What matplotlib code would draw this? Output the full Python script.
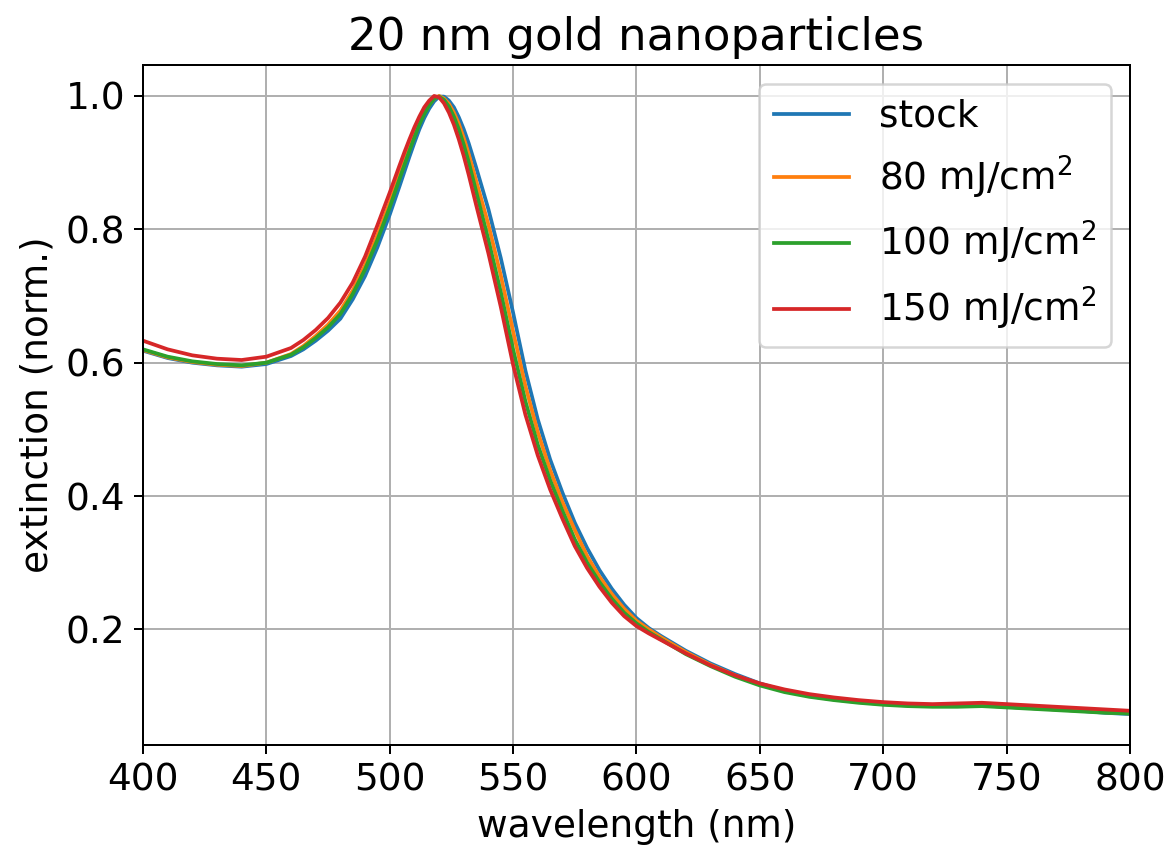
import matplotlib
matplotlib.use("Agg")
import matplotlib.pyplot as plt

# wavelength grid (nm)
wavelength = [400, 410, 420, 430, 440, 450, 460, 465, 470, 475, 480, 485, 490, 495,
              500, 504, 506, 508, 510, 512, 514, 516, 518, 520, 522, 524, 526, 528,
              530, 532, 535, 540, 545, 550, 555, 560, 565, 570, 575, 580, 585, 590,
              595, 600, 605, 610, 620, 630, 640, 650, 660, 670, 680, 690, 700, 710,
              720, 730, 740, 750, 760, 770, 780, 790, 800]

stock = [0.618, 0.607, 0.600, 0.596, 0.594, 0.598, 0.610, 0.620, 0.633, 0.648, 0.666, 0.695, 0.730, 0.773,
         0.822, 0.865, 0.887, 0.909, 0.930, 0.950, 0.967, 0.981, 0.992, 0.999, 0.999, 0.993, 0.983, 0.968,
         0.950, 0.929, 0.893, 0.830, 0.757, 0.675, 0.588, 0.515, 0.455, 0.405, 0.360, 0.322, 0.289, 0.261,
         0.237, 0.217, 0.202, 0.190, 0.168, 0.149, 0.133, 0.119, 0.108, 0.100, 0.095, 0.091, 0.088, 0.086,
         0.085, 0.085, 0.086, 0.084, 0.082, 0.080, 0.078, 0.075, 0.073]

mj80 = [0.619, 0.608, 0.601, 0.597, 0.595, 0.600, 0.613, 0.625, 0.640, 0.657, 0.678, 0.708, 0.746, 0.791,
        0.840, 0.882, 0.903, 0.923, 0.942, 0.960, 0.975, 0.987, 0.996, 1.000, 0.996, 0.988, 0.975, 0.958,
        0.937, 0.913, 0.873, 0.807, 0.731, 0.647, 0.565, 0.496, 0.439, 0.391, 0.349, 0.310, 0.279, 0.253,
        0.231, 0.213, 0.200, 0.188, 0.166, 0.147, 0.131, 0.118, 0.108, 0.101, 0.096, 0.092, 0.089, 0.087,
        0.085, 0.085, 0.086, 0.084, 0.082, 0.080, 0.078, 0.076, 0.074]

mj100 = [0.620, 0.609, 0.602, 0.598, 0.596, 0.600, 0.612, 0.623, 0.637, 0.653, 0.673, 0.703, 0.740, 0.784,
         0.833, 0.876, 0.897, 0.918, 0.938, 0.957, 0.973, 0.986, 0.996, 0.999, 0.994, 0.984, 0.969, 0.950,
         0.927, 0.901, 0.857, 0.784, 0.706, 0.620, 0.542, 0.477, 0.424, 0.378, 0.335, 0.300, 0.271, 0.246,
         0.225, 0.209, 0.196, 0.185, 0.163, 0.145, 0.129, 0.116, 0.106, 0.099, 0.094, 0.090, 0.087, 0.085,
         0.084, 0.084, 0.085, 0.083, 0.081, 0.079, 0.077, 0.075, 0.074]

mj150 = [0.633, 0.620, 0.611, 0.606, 0.604, 0.609, 0.622, 0.634, 0.649, 0.667, 0.690, 0.720, 0.759, 0.806,
         0.855, 0.896, 0.916, 0.935, 0.953, 0.969, 0.983, 0.993, 1.000, 0.998, 0.989, 0.975, 0.957, 0.935,
         0.910, 0.882, 0.837, 0.764, 0.684, 0.597, 0.522, 0.461, 0.410, 0.366, 0.325, 0.292, 0.264, 0.240,
         0.220, 0.205, 0.194, 0.184, 0.164, 0.146, 0.131, 0.119, 0.110, 0.103, 0.098, 0.094, 0.091, 0.089,
         0.088, 0.089, 0.090, 0.088, 0.086, 0.084, 0.082, 0.080, 0.078]

labels = ["stock", "80 mJ/cm$^2$", "100 mJ/cm$^2$", "150 mJ/cm$^2$"]
xticks = [400, 450, 500, 550, 600, 650, 700, 750, 800]

DPI = 180
plt.rcParams["font.size"] = 15

fig = plt.figure(figsize=(1169.0 / DPI, 850.0 / DPI))
ax = fig.add_subplot(111)
fig.subplots_adjust(left=0.1223, right=0.9666, top=0.9235, bottom=0.1235)

for series, lab in zip([stock, mj80, mj100, mj150], labels):
    ax.plot(wavelength, series, label=lab)

ax.set_xlim(400, 800)
ax.set_xticks(xticks)
ax.set_title("20 nm gold nanoparticles")
ax.set_xlabel("wavelength (nm)")
ax.set_ylabel("extinction (norm.)")
ax.grid(True)
ax.legend(loc="upper right")

fig.savefig("out.png", dpi=DPI)
